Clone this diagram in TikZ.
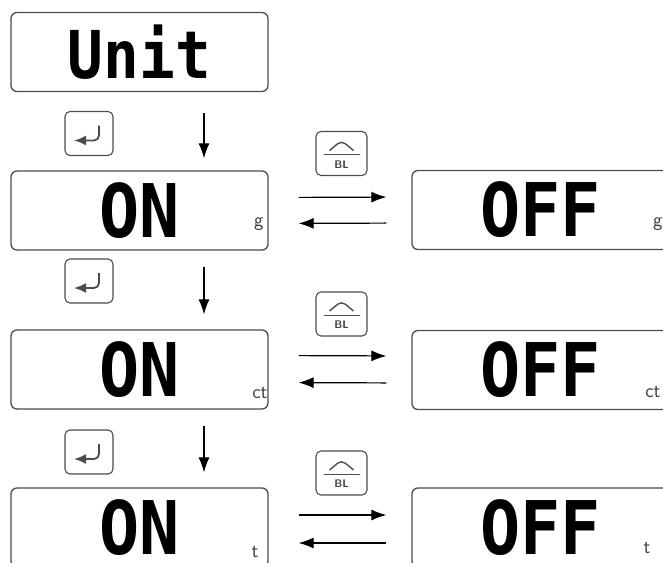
\documentclass[tikz,border=0pt]{standalone}
\usepackage{fontspec}
\usepackage{tikz}
\usetikzlibrary{arrows.meta}
\newfontfamily\lcdfont{DejaVu Sans Mono}[FakeStretch=0.9]

\tikzset{
  display/.style={draw=black!70, line width=1.3pt, rounded corners=6pt,
    minimum width=257pt, minimum height=79pt, inner sep=0pt,
    font=\lcdfont\bfseries\fontsize{74}{74}\selectfont},
  unitlbl/.style={anchor=base east, inner sep=0pt, text=black!75,
    font=\sffamily\fontsize{20}{20}\selectfont},
  keybox/.style={draw=black!70, line width=1.1pt, rounded corners=5pt,
    minimum width=48pt, minimum height=44pt, inner sep=0pt},
  enterkey/.style={keybox, path picture={
    \draw[line width=1.8pt, -{Latex[length=12pt,width=10pt]}]
      ([shift={(10,-8)}]path picture bounding box.center) |-
      ([shift={(-15,7)}]path picture bounding box.center);}},
  upkey/.style={keybox, minimum width=51pt, path picture={
    \draw[line width=1.4pt]
      ([shift={(-12,-3)}]path picture bounding box.center) --
      ([shift={(0,-13)}]path picture bounding box.center) --
      ([shift={(12,-3)}]path picture bounding box.center);
    \draw[line width=1pt]
      ([shift={(-18,1)}]path picture bounding box.center) --
      ([shift={(18,1)}]path picture bounding box.center);}},
  keytext/.style={inner sep=0pt, text=black!75,
    font=\sffamily\bfseries\fontsize{11}{11}\selectfont},
  flow/.style={line width=1.2pt, -{Latex[length=15pt,width=11pt]}}
}

\begin{document}
\begin{tikzpicture}[x=1pt, y=-1pt]
\useasboundingbox (0,0) rectangle (663,562);

% displays
\node[display, font=\lcdfont\bfseries\fontsize{66}{66}\selectfont] (unit) at (139.5,52) {Unit};
\node[display] (on1) at (139.5,210.5) {ON};
\node[display] (off1) at (540.5,210) {OFF};
\node[display] (on2) at (139.5,369.5) {ON};
\node[display] (off2) at (540.5,370) {OFF};
\node[display] (on3) at (139.5,527.5) {ON};
\node[display] (off3) at (540.5,527.5) {OFF};

% unit marks
\node[unitlbl] (on1u) at ([shift={(-5,-24)}]on1.south east) {g};
\node[unitlbl] (off1u) at ([shift={(-7,-24)}]off1.south east) {g};
\node[unitlbl] (on2u) at ([shift={(-1,-11)}]on2.south east) {ct};
\node[unitlbl] (off2u) at ([shift={(-9,-13)}]off2.south east) {ct};
\node[unitlbl] (on3u) at ([shift={(-10,-10)}]on3.south east) {t};
\node[unitlbl] (off3u) at ([shift={(-19,-14)}]off3.south east) {t};

% keys
\node[enterkey] (ent1) at (89,133.5) {};
\node[enterkey] (ent2) at (89,281) {};
\node[enterkey] (ent3) at (89,452) {};
\node[upkey] (bl1) at (341.5,153.5) {};
\node[upkey] (bl2) at (341.5,314) {};
\node[upkey] (bl3) at (341.5,473) {};
\node[keytext] (bl1t) at ([yshift=-11pt]bl1.center) {BL};
\node[keytext] (bl2t) at ([yshift=-11pt]bl2.center) {BL};
\node[keytext] (bl3t) at ([yshift=-11pt]bl3.center) {BL};

% enter: next unit
\draw[flow, shorten <=21pt, shorten >=12pt] ([xshift=64.5pt]unit.south) -- ([xshift=64.5pt]on1.north);
\draw[flow, shorten <=16pt, shorten >=15pt] ([xshift=64.5pt]on1.south) -- ([xshift=64.5pt]on2.north);
\draw[flow, shorten <=16pt, shorten >=15pt] ([xshift=64.5pt]on2.south) -- ([xshift=64.5pt]on3.north);

% up/BL: toggle
\draw[flow, shorten <=30pt, shorten >=25pt] ([yshift=13pt]on1.east) -- ([yshift=13pt]off1.west);
\draw[flow, shorten <=25pt, shorten >=30pt] ([yshift=-13pt]off1.west) -- ([yshift=-13pt]on1.east);
\draw[flow, shorten <=30pt, shorten >=25pt] ([yshift=14pt]on2.east) -- ([yshift=14pt]off2.west);
\draw[flow, shorten <=25pt, shorten >=30pt] ([yshift=-13pt]off2.west) -- ([yshift=-13pt]on2.east);
\draw[flow, shorten <=30pt, shorten >=25pt] ([yshift=12.5pt]on3.east) -- ([yshift=12.5pt]off3.west);
\draw[flow, shorten <=25pt, shorten >=30pt] ([yshift=-15.5pt]off3.west) -- ([yshift=-15.5pt]on3.east);
\end{tikzpicture}
\end{document}
